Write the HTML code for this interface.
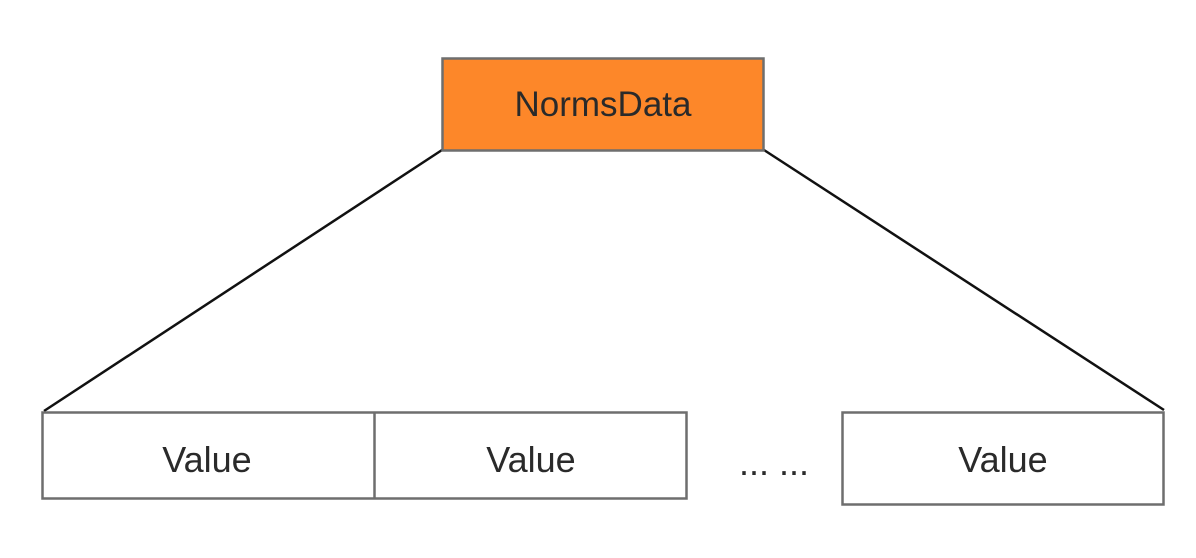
<!DOCTYPE html>
<html><head><meta charset="utf-8"><style>
html,body{margin:0;padding:0;background:#fff;width:1196px;height:558px;overflow:hidden}
</style></head><body>
<svg width="1196" height="558" xmlns="http://www.w3.org/2000/svg" font-family="Liberation Sans, Arial, sans-serif">
<rect x="0" y="0" width="1196" height="558" fill="#fff"/>
<line x1="442" y1="150" x2="44" y2="411" stroke="#111" stroke-width="2.5"/>
<line x1="764" y1="150" x2="1164" y2="410" stroke="#111" stroke-width="2.5"/>
<rect x="442.5" y="58.5" width="321" height="92" fill="#fd8729" stroke="#6e6e6e" stroke-width="2.5"/>
<text x="603" y="116" text-anchor="middle" font-size="35" fill="#2a2a2a">NormsData</text>
<rect x="42.5" y="412.5" width="644" height="86" fill="#fff" stroke="#6e6e6e" stroke-width="2.5"/>
<line x1="374.5" y1="412" x2="374.5" y2="499" stroke="#6e6e6e" stroke-width="2.5"/>
<text x="207" y="472" text-anchor="middle" font-size="36" fill="#2a2a2a">Value</text>
<text x="531" y="472" text-anchor="middle" font-size="36" fill="#2a2a2a">Value</text>
<text x="774" y="475" text-anchor="middle" font-size="36" fill="#2a2a2a">... ...</text>
<rect x="842.5" y="412.5" width="321" height="92" fill="#fff" stroke="#6e6e6e" stroke-width="2.5"/>
<text x="1003" y="472" text-anchor="middle" font-size="36" fill="#2a2a2a">Value</text>
</svg>
</body></html>
